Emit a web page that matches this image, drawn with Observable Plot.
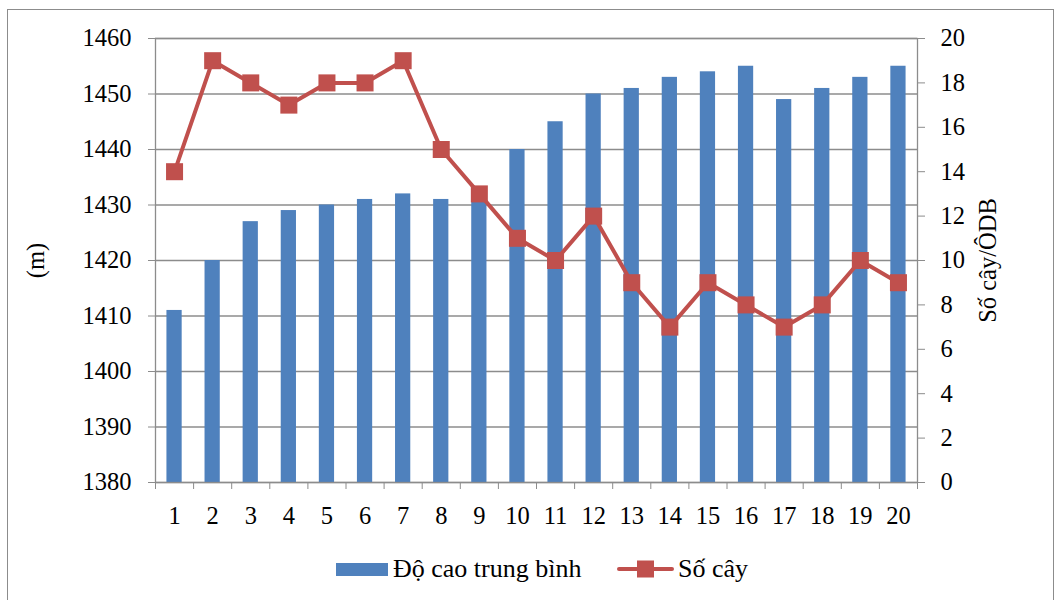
<!DOCTYPE html>
<html>
<head>
<meta charset="utf-8">
<script src="https://cdn.jsdelivr.net/npm/d3@7"></script>
<script src="https://cdn.jsdelivr.net/npm/@observablehq/plot@0.6"></script>
<style>
  html, body { margin: 0; padding: 0; background: #fff; }
  #wrap { position: relative; width: 1061px; height: 600px; overflow: hidden; font-family: 'Liberation Serif', serif; }
  #border { position: absolute; left: 7px; top: 9px; width: 1047px; height: 620px; border: 1.5px solid #8c8c8c; box-sizing: border-box; }
  #chart { position: absolute; left: 0; top: 0; }
  #chart svg text { font-family: 'Liberation Serif', serif; }
  #legend { position: absolute; left: 0; top: 552px; width: 1061px; height: 34px; font-size: 26px; color: #000; font-family: 'Liberation Serif', serif; }
  .item { position: absolute; top: 0; height: 34px; display: flex; align-items: center; white-space: nowrap; }
</style>
</head>
<body>
<div id="wrap">
  <div id="border"></div>
  <div id="chart"></div>
  <div id="legend"></div>
</div>
<script>
// Data
const plots = [1,2,3,4,5,6,7,8,9,10,11,12,13,14,15,16,17,18,19,20];
const meanHeight = [1411,1420,1427,1429,1430,1431,1432,1431,1431,1440,1445,1450,1451,1453,1454,1455,1449,1451,1453,1455];
const treeCount = [14,19,18,17,18,18,19,15,13,11,10,12,9,7,9,8,7,8,10,9];
const leftTicks = [1380,1390,1400,1410,1420,1430,1440,1450,1460];
const rightTicks = [0,2,4,6,8,10,12,14,16,18,20];
const seriesNames = ["Độ cao trung bình", "Số cây"];
const leftTitle = "(m)";
const rightTitle = "Số cây/ÔDB";

const blue = "#4F81BD", red = "#C0504D", gray = "#8c8c8c";
const yMin = 1380, yMax = 1460, rMax = 20;
const toLeft = v => yMin + v * (yMax - yMin) / rMax;

const data = plots.map((p, i) => ({plot: p, h: meanHeight[i], c: treeCount[i]}));
const bounds = d3.range(0, plots.length + 1).map(k => k + 0.5);

const chart = Plot.plot({
  width: 1061, height: 540,
  marginLeft: 155, marginRight: 144, marginTop: 38, marginBottom: 58,
  style: {fontFamily: "'Liberation Serif', serif", fontSize: "24px", color: "#000", background: "transparent", overflow: "visible"},
  x: {domain: [0.5, plots.length + 0.5]},
  y: {domain: [yMin, yMax]},
  marks: [
    Plot.gridY(leftTicks, {stroke: gray, strokeOpacity: 1, strokeWidth: 1.3}),
    Plot.rectY(data, {x1: d => d.plot - 0.2, x2: d => d.plot + 0.2, y1: yMin, y2: "h", fill: blue}),
    Plot.frame({stroke: gray, strokeWidth: 1.3}),
    Plot.axisY(leftTicks, {anchor: "left", tickSize: 7, tickPadding: 17, stroke: gray, fill: "#000", tickFormat: d => String(d), fontSize: 24.5, label: null}),
    Plot.axisY(rightTicks.map(toLeft), {anchor: "right", tickSize: 7, tickPadding: 16, stroke: gray, fill: "#000", fontSize: 24.5, tickFormat: d => String(Math.round((d - yMin) * rMax / (yMax - yMin))), textAnchor: "start", label: null}),
    Plot.axisX(bounds, {anchor: "bottom", tickSize: 7, stroke: gray, tickFormat: () => "", label: null}),
    Plot.axisX(plots, {anchor: "bottom", tickSize: 0, tickPadding: 24, fill: "#000", fontSize: 24.5, tickFormat: d => String(d), label: null}),
    Plot.line(data, {x: "plot", y: d => toLeft(d.c), stroke: red, strokeWidth: 4}),
    Plot.dot(data, {x: "plot", y: d => toLeft(d.c), symbol: "square", r: 9.6, fill: red, stroke: "none"}),
    Plot.text([leftTitle], {frameAnchor: "left", textAnchor: "middle", dx: -119, rotate: -90, fontSize: 24.5, fill: "#000"}),
    Plot.text([rightTitle], {frameAnchor: "right", textAnchor: "middle", dx: 71, rotate: -90, fontSize: 24.5, fill: "#000"})
  ]
});
document.getElementById("chart").appendChild(chart);

// Legend
const legend = document.getElementById("legend");
const it1 = document.createElement("div");
it1.className = "item";
it1.style.left = "336px";
it1.innerHTML = `<span style="display:inline-block;width:52px;height:13px;background:${blue};margin-right:5px"></span><span>${seriesNames[0]}</span>`;
legend.appendChild(it1);
const it2 = document.createElement("div");
it2.className = "item";
it2.style.left = "617px";
it2.innerHTML = `<svg width="57" height="20" style="margin-right:4px"><line x1="2" y1="10" x2="55" y2="10" stroke="${red}" stroke-width="4" stroke-linecap="round"/><rect x="20" y="1.5" width="17" height="17" fill="${red}"/></svg><span>${seriesNames[1]}</span>`;
legend.appendChild(it2);
</script>
</body>
</html>
